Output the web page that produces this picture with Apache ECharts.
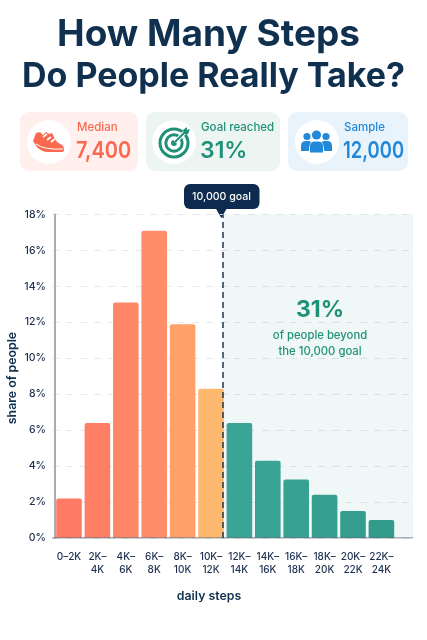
<!DOCTYPE html>
<html><head><meta charset="utf-8">
<style>html,body{margin:0;padding:0;background:#fff}#c{width:427px;height:640px}</style>
<script src="https://cdn.jsdelivr.net/npm/echarts@6/dist/echarts.min.js"></script>
</head><body><div id="c"></div>
<script>
const categories = ['0–2K','2K–\n4K','4K–\n6K','6K–\n8K','8K–\n10K','10K–\n12K','12K–\n14K','14K–\n16K','16K–\n18K','18K–\n20K','20K–\n22K','22K–\n24K'];
const shares = [2.2,6.4,13.1,17.1,11.9,8.3,6.4,4.3,3.25,2.4,1.5,1.0];
const barColors = ['#ff7a64','#ff7f66','#ff8768','#ff8d69','#ffa169','#ffb96f','#3aa595','#39a394','#38a292','#36a090','#349d8d','#329b8b'];
const yTicks = [0,18,2];
const goalPosition = 5.9;
const F = 'Inter, "Noto Sans", sans-serif';
const navy = '#10304f', ink = '#1d2f4f';

let pathCount=0;
function P(d,style){
  const name='iconPath'+(pathCount++);
  echarts.graphic.registerShape(name,echarts.graphic.extendPath(d,{}));
  return {type:name,style};
}
function card(x,w,bg,cx,accent,label,val,tx,sx,icon){
  return [
    {type:'rect',shape:{x,y:112,width:w,height:59,r:9},style:{fill:bg}},
    {type:'circle',shape:{cx,cy:142,r:22},style:{fill:'#fff'}},
    {type:'text',style:{x:tx+1,y:128,text:label,fill:accent,font:'500 11.5px '+F,textVerticalAlign:'middle'}},
    {type:'text',x:tx,y:151,scaleX:sx,style:{x:0,y:0,text:val,fill:accent,font:'600 23px '+F,textVerticalAlign:'middle'}},
    ...icon
  ];
}
const sC='#f9694f';
const shoe=[
  P('M36 133 L40 132 L43 135 L46 132 L49 134 L52 133 L54 137 L57 142 L62 145 Q64 146 64 150 Q64 152 61 152 L49 152 Q41 152 37 147 L33 141 Z',{fill:sC}),
  P('M43 137 L47 134 M47 140 L51 137 M51 142 L55 139',{stroke:'#fff',lineWidth:1.6,fill:'none'}),
  P('M36 144 Q44 150 63 149',{stroke:'#fff',lineWidth:1,fill:'none'})
];
const tC='#1f9177';
const target=[
  {type:'circle',shape:{cx:174,cy:143,r:14},style:{fill:'none',stroke:tC,lineWidth:3}},
  {type:'circle',shape:{cx:174,cy:143,r:8.2},style:{fill:'none',stroke:tC,lineWidth:3}},
  {type:'circle',shape:{cx:174,cy:143,r:3},style:{fill:tC}},
  P('M175 142 L186 131',{stroke:'#fff',lineWidth:4,fill:'none'}),
  P('M175 142 L186 131',{stroke:tC,lineWidth:2,fill:'none'}),
  P('M183 130 L187 127 L187 130 L190 129 L188 134 L184 134 Z',{fill:tC})
];
const pC='#2288d8';
const people=[
  {type:'circle',shape:{cx:307,cy:136.5,r:3.6},style:{fill:pC}},
  {type:'circle',shape:{cx:316.5,cy:135,r:4.6},style:{fill:pC}},
  {type:'circle',shape:{cx:326,cy:136.5,r:3.6},style:{fill:pC}},
  P('M301 151 L301 146 Q301 141 306 141 L309 141 Q310 141 311 142 Q309 145 309 151 Z',{fill:pC}),
  P('M332 151 L332 146 Q332 141 327 141 L324 141 Q323 141 322 142 Q324 145 324 151 Z',{fill:pC}),
  P('M310 152.5 L310 146.5 Q310 141.5 315 141.5 L318 141.5 Q323 141.5 323 146.5 L323 152.5 Z',{fill:pC})
];

const graphics=[
  {type:'text',style:{x:208.5,y:35,text:'How Many Steps',fill:navy,font:'700 37px '+F,textAlign:'center',textVerticalAlign:'middle'}},
  {type:'text',style:{x:213.5,y:77,text:'Do People Really Take?',fill:navy,font:'700 34px '+F,textAlign:'center',textVerticalAlign:'middle'}},
  ...card(20,118,'#fff0ed',49,'#f9694f','Median','7,400',76,0.87,shoe),
  ...card(146,134,'#ecf5f2',174,'#1f9177','Goal reached','31%',200,1,target),
  ...card(288,120,'#e9f3fc',317,'#2288d8','Sample','12,000',343,0.8,people),
  {type:'rect',shape:{x:184,y:184,width:75.5,height:25,r:6},style:{fill:'#0d2b4e'}},
  P('M215.5 208 L227 208 L221.3 218 Z',{fill:'#0d2b4e'}),
  {type:'text',style:{x:221.5,y:196.5,text:'10,000 goal',fill:'#fff',font:'500 10.6px '+F,textAlign:'center',textVerticalAlign:'middle'}},
  {type:'text',z:20,style:{x:320,y:310,text:'31%',fill:tC,font:'700 23px '+F,textAlign:'center',textVerticalAlign:'middle'}},
  {type:'text',z:20,style:{x:320,y:336,text:'of people beyond',fill:tC,font:'500 11.3px '+F,textAlign:'center',textVerticalAlign:'middle'}},
  {type:'text',z:20,style:{x:320,y:352,text:'the 10,000 goal',fill:tC,font:'500 11.3px '+F,textAlign:'center',textVerticalAlign:'middle'}},
  {type:'text',style:{x:209,y:596,text:'daily steps',fill:navy,font:'600 12.3px '+F,textAlign:'center',textVerticalAlign:'middle'}},
  {type:'text',rotation:Math.PI/2,x:12.5,y:378,style:{x:0,y:0,text:'share of people',fill:navy,font:'600 12.3px '+F,textAlign:'center',textVerticalAlign:'middle'}}
];

const chart=echarts.init(document.getElementById('c'),null,{renderer:'canvas'});
chart.setOption({
  animation:false,
  backgroundColor:'#fff',
  graphic:graphics,
  grid:[
    {left:52,width:361,top:214.5,height:323.5},
    {left:54.8,width:340.8,top:214.5,height:323.5}
  ],
  xAxis:[
    {type:'value',gridIndex:0,min:-0.1,max:12.61,show:false,splitLine:{show:false}},
    {type:'category',gridIndex:1,data:categories,axisTick:{show:false},axisLine:{show:false},
     axisLabel:{interval:0,margin:12,color:ink,fontFamily:F,fontSize:10,lineHeight:13,fontWeight:500,hideOverlap:false}}
  ],
  yAxis:[
    {type:'value',gridIndex:0,min:yTicks[0],max:yTicks[1],interval:yTicks[2],
     axisLine:{show:true,lineStyle:{color:'#a8acb2',width:2}},axisTick:{show:false},
     axisLabel:{formatter:'{value}%',margin:6,color:ink,fontFamily:F,fontSize:10.5,fontWeight:500},
     splitLine:{lineStyle:{color:'#e6e9ec',width:1,type:[7,7]}}},
    {type:'value',gridIndex:1,min:yTicks[0],max:yTicks[1],interval:yTicks[2],show:false,splitLine:{show:false}}
  ],
  series:[
    {type:'line',xAxisIndex:0,yAxisIndex:0,z:1,data:[[0,0]],symbol:'none',lineStyle:{opacity:0},silent:true,
     markArea:{silent:true,itemStyle:{color:'rgba(45,140,140,0.07)'},data:[[{xAxis:goalPosition,yAxis:0},{xAxis:12.61,yAxis:18}]]}},
    {type:'bar',xAxisIndex:1,yAxisIndex:1,z:3,barWidth:25.6,
     data:shares.map((v,i)=>({value:v,itemStyle:{color:barColors[i],borderRadius:[2,2,0,0]}}))},
    {type:'line',xAxisIndex:0,yAxisIndex:0,z:5,data:[[0,0]],symbol:'none',lineStyle:{opacity:0},silent:true,
     markLine:{silent:true,symbol:'none',label:{show:false},lineStyle:{color:'#22354f',width:1.5,type:[6,4]},data:[{xAxis:goalPosition}]}},
    {type:'line',xAxisIndex:0,yAxisIndex:0,z:4,data:[[-0.1,0],[12.61,0]],symbol:'none',lineStyle:{color:'#5d6977',width:1},silent:true}
  ]
});
</script></body></html>
